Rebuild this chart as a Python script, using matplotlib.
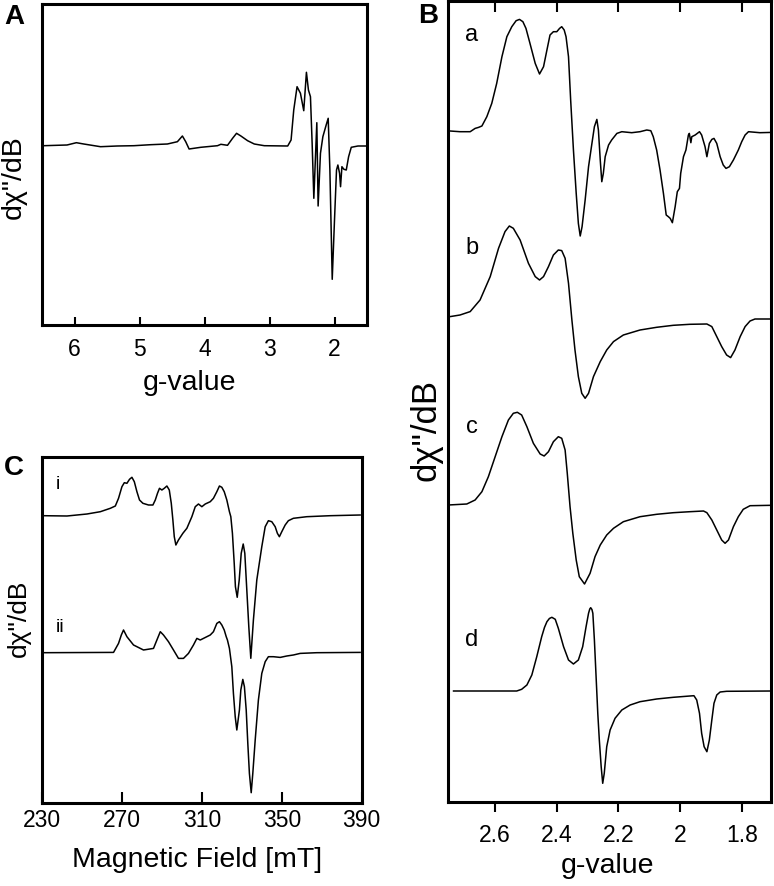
import matplotlib
matplotlib.use("Agg")
import matplotlib.pyplot as plt

plt.rcParams['font.family'] = ['Liberation Sans', 'DejaVu Sans']
plt.rcParams['lines.solid_joinstyle'] = 'round'

# ---------------- Panel A data (g-value vs derivative signal, a.u.) ----------------
a_g = [6.475, 6.115, 5.971, 5.858, 5.600, 5.343, 5.086, 4.829, 4.571, 4.417, 4.340,
       4.289, 4.237, 4.057, 3.800, 3.748, 3.646, 3.568, 3.507, 3.440, 3.337, 3.234,
       3.080, 2.720, 2.668, 2.627, 2.576, 2.524, 2.473, 2.432, 2.401, 2.370, 2.344,
       2.318, 2.272, 2.252, 2.216, 2.179, 2.128, 2.097, 2.071, 2.035, 2.000, 1.969,
       1.948, 1.922, 1.907, 1.886, 1.855, 1.819, 1.783, 1.742, 1.639, 1.511]
a_sig = [0.3, 1, 3.3, 2, -0.7, 0, 0.3, 1.3, 2, 4.3, 10,
         4.3, -3, -1.3, 0.3, 1.7, 0.7, 7.7, 12.7, 10, 5.3, 2,
         0.3, 0, 6, 36, 59.3, 52.7, 35.3, 73.7, 56, 49.3, 2.7,
         -52.3, 23.3, -60, -7.3, 9.3, 21, 27.7, -24, -133.3, -74, -24,
         -19, -27.3, -40.7, -20.7, -23.3, -24, -10.7, -1.3, 0, 0]

# ---------------- Panel B data ----------------
ba_g = [2.746, 2.714, 2.681, 2.665, 2.654, 2.643, 2.627, 2.611, 2.595, 2.578, 2.562,
        2.546, 2.532, 2.521, 2.510, 2.500, 2.487, 2.470, 2.456, 2.443, 2.432, 2.422,
        2.411, 2.400, 2.391, 2.384, 2.376, 2.370, 2.362, 2.355, 2.346, 2.337, 2.330,
        2.324, 2.318, 2.308, 2.297, 2.286, 2.278, 2.270, 2.265, 2.259, 2.254, 2.249,
        2.243, 2.232, 2.222, 2.205, 2.189, 2.157, 2.130, 2.108, 2.095, 2.087, 2.076,
        2.065, 2.054, 2.045, 2.038, 2.032, 2.025, 2.016, 2.009, 2.002, 1.998, 1.989,
        1.981, 1.973, 1.970, 1.965, 1.962, 1.951, 1.937, 1.930, 1.919, 1.913, 1.905,
        1.897, 1.890, 1.881, 1.870, 1.860, 1.851, 1.840, 1.827, 1.811, 1.800, 1.789,
        1.778, 1.741, 1.703]
ba_sig = [0.7, 0, 0, 3.3, 4.3, 5.7, 15, 28.3, 48.3, 75, 95,
          105, 111, 112.3, 110, 103.3, 88.3, 68.3, 57.7, 65, 81.7, 96.7,
          100, 100, 103.3, 105, 101.7, 95, 75, 31.7, -18.3, -61.7, -91.7,
          -104.3, -95, -68.3, -35, -11.7, 5, 12.3, 1.7, -28.3, -50, -41.7,
          -25, -13.3, -8.3, -1.7, 0, -1, 0, 1.7, 1, -5, -18.3,
          -38.3, -61.7, -83.3, -85, -86.7, -91, -75, -60, -56.7, -41.7, -25,
          -18.3, -3.3, -1.7, -11, -5, -3.3, 0, -3.3, -15, -25, -11.7,
          -7.7, -6.7, -11.7, -25, -33.3, -36.7, -35, -28.3, -18.3, -10, -3.3,
          0, -1, -0.7]

bb_g = [2.746, 2.714, 2.681, 2.649, 2.616, 2.589, 2.568, 2.554, 2.541, 2.519, 2.492,
        2.470, 2.456, 2.443, 2.427, 2.411, 2.395, 2.384, 2.373, 2.362, 2.351, 2.341,
        2.330, 2.319, 2.308, 2.297, 2.281, 2.259, 2.238, 2.216, 2.184, 2.130, 2.076,
        2.022, 1.968, 1.913, 1.897, 1.881, 1.865, 1.849, 1.836, 1.822, 1.805, 1.789,
        1.773, 1.757, 1.703]
bb_sig = [1.7, 3.3, 6.7, 18.3, 41.7, 70, 86.7, 92.3, 90, 78.3, 55,
          41.7, 38.3, 41.7, 51.7, 63.3, 68.3, 67.7, 60, 35, -1.7, -31.7,
          -58.3, -75, -80, -75, -58.3, -43.3, -31.7, -23.3, -16.7, -11.7, -9,
          -7, -6, -5.7, -8.3, -18.3, -28.3, -36.7, -39.3, -31.7, -18.3, -8.3,
          -2.7, -0.7, -0.7]

bc_g = [2.752, 2.692, 2.665, 2.643, 2.622, 2.600, 2.578, 2.557, 2.541, 2.528, 2.514,
        2.497, 2.476, 2.454, 2.441, 2.427, 2.411, 2.395, 2.384, 2.373, 2.366, 2.357,
        2.348, 2.337, 2.327, 2.310, 2.292, 2.276, 2.259, 2.238, 2.216, 2.184, 2.130,
        2.076, 2.022, 1.968, 1.924, 1.913, 1.897, 1.881, 1.865, 1.854, 1.843, 1.827,
        1.811, 1.795, 1.773, 1.703]
bc_sig = [0, 1, 5, 13.3, 28.3, 48.3, 68.3, 85, 91.7, 92.7, 90,
          78.3, 61.7, 51, 49, 53.3, 63.3, 68.3, 66.7, 55, 31.7, -1.7,
          -28.3, -55, -71.7, -79, -68.3, -51.7, -40, -30, -23.3, -16.7, -11.7,
          -9.3, -7.7, -6.7, -6, -7.7, -15, -25, -35, -38.3, -35, -21.7,
          -11.7, -4.3, -0.7, -0.3]

bd_g = [2.735, 2.530, 2.514, 2.497, 2.481, 2.465, 2.449, 2.440, 2.432, 2.424, 2.416,
        2.405, 2.395, 2.378, 2.362, 2.346, 2.330, 2.316, 2.305, 2.297, 2.293, 2.290,
        2.286, 2.283, 2.278, 2.272, 2.267, 2.262, 2.256, 2.251, 2.246, 2.238, 2.227,
        2.211, 2.189, 2.162, 2.130, 2.076, 2.022, 1.968, 1.955, 1.946, 1.937, 1.930,
        1.922, 1.913, 1.905, 1.897, 1.890, 1.881, 1.870, 1.849, 1.703]
bd_sig = [0, 0, 1.7, 6, 16, 34.3, 54.3, 63.5, 69.3, 72.5, 73.7,
          71.7, 62.7, 44.3, 31, 27, 31, 44.3, 64.3, 77.7, 82, 83.3,
          81.5, 77.7, 51, 11, -22.3, -49, -75.7, -92.3, -82.3, -55.7, -39,
          -27.3, -19, -14, -10.7, -8, -6.3, -5, -4.7, -9, -22.3, -42.3,
          -55.7, -60.7, -49, -29, -12.3, -4, -1, -0.3, 0]

b_labels = ['a', 'b', 'c', 'd']

# ---------------- Panel C data (magnetic field in mT) ----------------
ci_B = [230.8, 242.5, 252.5, 259.2, 264.2, 266.7, 268.3, 270.0, 271.2, 272.5, 273.8,
        275.0, 276.2, 277.5, 278.8, 280.5, 283.3, 285.5, 286.7, 287.8, 288.8, 290.0,
        291.2, 292.5, 293.7, 294.7, 295.5, 296.2, 297.0, 298.3, 300.5, 302.5, 305.0,
        306.7, 308.3, 310.0, 311.7, 314.2, 315.8, 317.5, 318.8, 320.0, 321.2, 322.5,
        323.8, 324.5, 325.3, 326.2, 326.8, 327.7, 328.7, 329.7, 330.7, 331.5, 332.5,
        333.5, 334.5, 335.8, 337.5, 340.0, 341.7, 343.3, 345.0, 346.7, 347.8, 348.8,
        350.0, 351.7, 353.3, 355.8, 362.5, 374.2, 389.2]
ci_sig = [-0.7, -1, 1, 3.3, 6.7, 9, 16.7, 28.3, 32.3, 31.7, 35.7,
          37.7, 33.3, 23.3, 15, 11.7, 10, 10, 15, 21.7, 26.7, 25,
          26.7, 29, 25, 11.7, -5, -21.7, -30, -25, -18.3, -13.3, -1.7,
          8.3, 11, 8.3, 11, 13.3, 16.7, 23.3, 29, 27.7, 23.3, 15,
          3.3, -1.7, -18.3, -48.3, -71.7, -82.3, -65, -38.3, -29, -38.3, -75,
          -111.7, -143.3, -105, -65, -31.7, -11.7, -5.7, -6.7, -11.7, -18.3, -21.7,
          -16.7, -10, -5.7, -3.3, -1.7, -0.7, 0]

cii_B = [230.8, 265.8, 268.3, 269.7, 270.8, 272.5, 275.8, 280.8, 285.8, 287.5, 289.2,
         290.8, 293.3, 295.8, 298.3, 300.8, 303.3, 305.8, 307.5, 309.2, 310.8, 312.5,
         314.2, 315.8, 317.5, 318.8, 320.0, 321.2, 322.2, 322.8, 323.8, 325.0, 325.8,
         326.7, 327.5, 328.8, 329.5, 330.5, 331.3, 332.2, 333.0, 333.8, 334.7, 335.5,
         336.7, 338.3, 340.0, 341.7, 343.3, 345.8, 349.2, 352.5, 355.8, 359.2, 367.5,
         389.2]
cii_sig = [0, 0.3, 9.3, 17.7, 22.7, 16, 7.7, 2.7, 4.3, 12.7, 21,
           17.7, 11, 2.7, -5.7, -5.7, -0.7, 7.7, 14.3, 12.7, 14.3, 16,
           17.7, 21, 29.3, 31, 27.7, 22.7, 16, 12.7, 4.3, -14, -40.7,
           -64, -77.3, -57.3, -37.3, -26.7, -34, -57.3, -90.7, -120.7, -140, -120.7,
           -87.3, -47.3, -20.7, -9, -4, -4, -4.7, -3.3, -2.3, -0.7, 0,
           0.3]

c_labels = ['i', 'ii']

# ---------------- layout helpers ----------------
W, H = 774, 886
fig = plt.figure(figsize=(W / 100, H / 100), dpi=100)


def ax_rect(l, t, r, b):
    return [l / W, 1 - b / H, (r - l) / W, (b - t) / H]


def fx(x):
    return x / W


def fy(y):
    return 1 - y / H


LW = 1.1
SPINE = 2.2
TICKFS = 16.5
LABFS = 20.5

# ---------------- Panel A ----------------
axA = fig.add_axes(ax_rect(42, 4, 367, 325))
axA.plot(a_g, a_sig, color='black', lw=LW)
axA.set_xlim(6.5, 1.5)
axA.set_ylim(-179, 142)
axA.set_xticks([6, 5, 4, 3, 2])
axA.set_xticklabels(['6', '5', '4', '3', '2'])
axA.set_yticks([])
axA.tick_params(axis='x', direction='in', length=6, width=1.5, labelsize=TICKFS, pad=9)

# ---------------- Panel B ----------------
axB = fig.add_axes(ax_rect(448.3, 1, 771, 801.7))
offsets_B = [670, 483.4, 296.7, 110.7]
for (g, s), off in zip([(ba_g, ba_sig), (bb_g, bb_sig), (bc_g, bc_sig), (bd_g, bd_sig)], offsets_B):
    axB.plot(g, [v + off for v in s], color='black', lw=LW)
axB.set_xlim(2.752, 1.705)
axB.set_ylim(0, 800.7)
axB.set_xticks([2.6, 2.4, 2.2, 2.0, 1.8])
axB.set_xticklabels(['2.6', '2.4', '2.2', '2', '1.8'])
axB.set_yticks([])
axB.tick_params(axis='x', which='both', direction='out', length=7, width=1.5,
                labelsize=TICKFS, pad=9, top=False)
axBt = axB.secondary_xaxis('top')
axBt.set_xticks([2.6, 2.4, 2.2, 2.0, 1.8])
axBt.tick_params(axis='x', direction='in', length=8, width=1.5, labeltop=False)
axBt.spines['top'].set_visible(False)
for lab, yp in zip(b_labels, [35, 248, 427, 640]):
    fig.text(fx(472), fy(yp), lab, fontsize=17, ha='center', va='center')

# ---------------- Panel C ----------------
axC = fig.add_axes(ax_rect(42, 457.3, 361.7, 803))
offsets_C = [288, 150.3]
for (bf, s), off in zip([(ci_B, ci_sig), (cii_B, cii_sig)], offsets_C):
    axC.plot(bf, [v + off for v in s], color='black', lw=LW)
axC.set_xlim(230, 390)
axC.set_ylim(0, 345.7)
axC.set_xticks([230, 270, 310, 350, 390])
axC.set_yticks([])
axC.tick_params(axis='x', direction='in', length=8, width=1.5, labelsize=TICKFS, pad=4)
fig.text(fx(58), fy(485), c_labels[0], fontsize=14, ha='center', va='center')
fig.text(fx(60), fy(627), c_labels[1], fontsize=14, ha='center', va='center')

for ax in (axA, axB, axC):
    for sp in ax.spines.values():
        sp.set_linewidth(SPINE)

# ---------------- Labels ----------------
fig.text(fx(14), fy(17), 'A', fontsize=20, fontweight='bold', ha='center', va='center')
fig.text(fx(428), fy(16), 'B', fontsize=20, fontweight='bold', ha='center', va='center')
fig.text(fx(14), fy(468), 'C', fontsize=20, fontweight='bold', ha='center', va='center')

fig.text(fx(190), fy(383), 'g-value', fontsize=LABFS, ha='center', va='center')
fig.text(fx(608), fy(866), 'g-value', fontsize=LABFS, ha='center', va='center')
fig.text(fx(197), fy(860), 'Magnetic Field [mT]', fontsize=LABFS, ha='center', va='center')

fig.text(fx(14), fy(177), 'dχ"/dB', fontsize=LABFS, rotation=90, ha='center', va='center')
fig.text(fx(426), fy(430), 'dχ"/dB', fontsize=25, rotation=90, ha='center', va='center')
fig.text(fx(19), fy(618), 'dχ"/dB', fontsize=19, rotation=90, ha='center', va='center')

fig.savefig('out.png', dpi=100)
